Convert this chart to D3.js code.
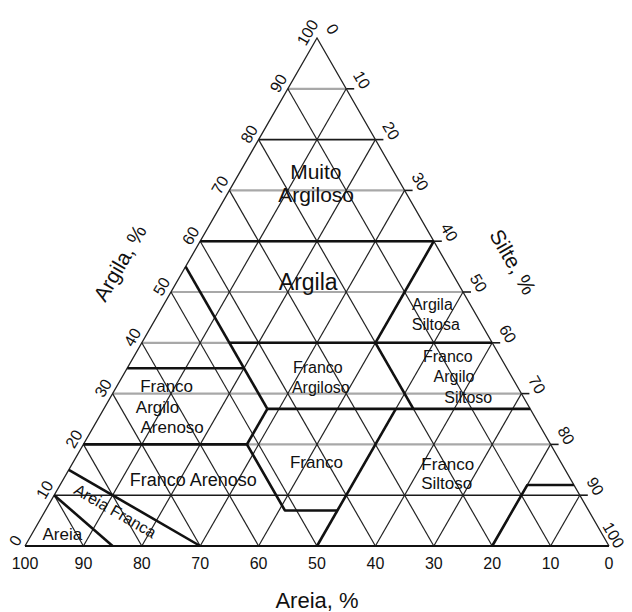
<!DOCTYPE html>
<html>
<head>
<meta charset="utf-8">
<script src="https://cdn.jsdelivr.net/npm/d3@7"></script>
<style>
    body { margin: 0; background: #fff; }
    svg { display: block; font-family: "Liberation Sans", Arial, sans-serif; }
</style>
</head>
<body>
<svg id="chart" width="632" height="612"></svg>
<script>
// percent ticks on the three axes
var sandTicks = [100, 90, 80, 70, 60, 50, 40, 30, 20, 10, 0];
var clayTicks = [0, 10, 20, 30, 40, 50, 60, 70, 80, 90, 100];
var siltTicks = [0, 10, 20, 30, 40, 50, 60, 70, 80, 90, 100];
var gridSteps = [10, 20, 30, 40, 50, 60, 70, 80, 90];

// class boundaries, each point is [sand, silt, clay]
var boundaries = [
    [[85, 15, 0], [90, 0, 10]],
    [[70, 30, 0], [85, 0, 15]],
    [[80, 0, 20], [52, 28, 20]],
    [[52, 28, 20], [52, 41, 7], [43, 50, 7]],
    [[50, 50, 0], [23, 50, 27]],
    [[52, 28, 20], [45, 28, 27]],
    [[45, 28, 27], [0, 73, 27]],
    [[45, 0, 55], [45, 28, 27]],
    [[65, 0, 35], [45, 20, 35]],
    [[45, 15, 40], [0, 60, 40]],
    [[20, 40, 40], [20, 53, 27]],
    [[0, 40, 60], [20, 40, 40]],
    [[40, 0, 60], [0, 40, 60]],
    [[20, 80, 0], [8, 80, 12], [0, 88, 12]]
];

// class names, one entry per text line
var classLines = ["Muito", "Argiloso", "Argila", "Argila", "Siltosa",
    "Franco", "Argilo", "Siltoso", "Franco", "Argiloso",
    "Franco", "Argilo", "Arenoso", "Franco Arenoso", "Franco",
    "Franco", "Siltoso", "Areia", "Areia Franca"];
// where each line sits, [silt, clay]
var classLineAt = [[13.7, 72.2], [16.0, 67.7], [23.3, 50.4], [46.5, 46.5], [49.1, 42.5],
    [54.3, 36.2], [57.3, 32.3], [61.8, 28.2], [33.1, 34.1], [35.6, 30.1],
    [9.1, 30.3], [9.6, 26.2], [14.1, 22.2], [22.9, 11.8], [42.2, 15.4],
    [64.9, 15.0], [66.6, 11.2], [5.8, 1.2], [12.0, 6.9]];

var axisTitles = ["Areia, %", "Argila, %", "Silte, %"];

var svg = d3.select('#chart');

var x = d3.scaleLinear().domain([0, 100]).range([25, 609]);
var y = d3.scaleLinear().domain([0, 100]).range([546, 38]);

function pt(p) {
    // p = [sand, silt, clay]
    return [x(p[1] + p[2] / 2), y(p[2])];
}
function ptSC(silt, clay) {
    return pt([100 - silt - clay, silt, clay]);
}

var line = d3.line();

var gridG = svg.append('g');
var darkClay = [10, 80];

// clay grid, horizontal
gridSteps.forEach(function (c) {
    var a = pt([100 - c, 0, c]), b = pt([0, 100 - c, c]);
    var dark = darkClay.indexOf(c) >= 0;
    gridG.append('line')
        .attr('x1', a[0]).attr('y1', a[1]).attr('x2', b[0]).attr('y2', b[1])
        .attr('stroke', dark ? '#1a1a1a' : '#a8a8a8')
        .attr('stroke-width', dark ? 1.6 : 2.2);
    gridG.append('line')
        .attr('x1', b[0]).attr('y1', b[1]).attr('x2', b[0] + 8).attr('y2', b[1])
        .attr('stroke', '#1a1a1a').attr('stroke-width', 1.6);
});

// sand and silt grid, diagonal
gridSteps.forEach(function (s) {
    var a = pt([s, 100 - s, 0]), b = pt([s, 0, 100 - s]);
    gridG.append('path').attr('d', line([a, b]))
        .attr('stroke', '#222').attr('stroke-width', 1.2).attr('fill', 'none');
    var c = pt([100 - s, s, 0]), d = pt([0, s, 100 - s]);
    gridG.append('path').attr('d', line([c, d]))
        .attr('stroke', '#222').attr('stroke-width', 1.2).attr('fill', 'none');
});

// outline
svg.append('path')
    .attr('d', line([pt([100, 0, 0]), pt([0, 0, 100]), pt([0, 100, 0])]))
    .attr('stroke', '#222').attr('stroke-width', 1.3).attr('fill', 'none');
svg.append('path')
    .attr('d', line([pt([100, 0, 0]), pt([0, 100, 0])]))
    .attr('stroke', '#111').attr('stroke-width', 2).attr('fill', 'none');

// class boundaries
svg.append('g').selectAll('path')
    .data(boundaries)
    .enter().append('path')
    .attr('d', function (d) { return line(d.map(pt)); })
    .attr('stroke', '#111').attr('stroke-width', 2.6)
    .attr('fill', 'none').attr('stroke-linejoin', 'round');

// tick labels
var tickG = svg.append('g').attr('font-size', 16).attr('fill', '#111');
sandTicks.forEach(function (s) {
    var p = pt([s, 100 - s, 0]);
    tickG.append('text').attr('x', p[0]).attr('y', 568.5)
        .attr('text-anchor', 'middle').text(s);
});
clayTicks.forEach(function (c) {
    var p = pt([100 - c, 0, c]);
    var lx = p[0] - 11 * 0.866, ly = p[1] - 11 * 0.5;
    tickG.append('text')
        .attr('transform', 'translate(' + lx + ',' + ly + ') rotate(-60)')
        .attr('text-anchor', 'middle').attr('dy', '0.35em').text(c);
});
siltTicks.forEach(function (t) {
    var p = pt([0, t, 100 - t]);
    var lx = p[0] + 18 * 0.866, ly = p[1] - 18 * 0.5;
    // last label would run off the right edge
    if (t === 100) { lx -= 11; ly -= 2; }
    tickG.append('text')
        .attr('transform', 'translate(' + lx + ',' + ly + ') rotate(60)')
        .attr('text-anchor', 'middle').attr('dy', '0.35em').text(t);
});

// axis titles
svg.append('text').attr('x', x(50)).attr('y', 608)
    .attr('text-anchor', 'middle').attr('font-size', 22).attr('fill', '#111')
    .text(axisTitles[0]);
svg.append('text').attr('transform', 'translate(120,263) rotate(-60)')
    .attr('text-anchor', 'middle').attr('dy', '0.35em').attr('font-size', 21).attr('fill', '#111')
    .text(axisTitles[1]);
svg.append('text').attr('transform', 'translate(513,262) rotate(60)')
    .attr('text-anchor', 'middle').attr('dy', '0.35em').attr('font-size', 21).attr('fill', '#111')
    .text(axisTitles[2]);

// class labels
var labelSize = [21, 21, 23, 16, 16, 16, 16, 16, 16, 16, 17, 17, 17, 18, 17, 17, 17, 17, 16];
var labelG = svg.append('g').attr('fill', '#111');
classLines.forEach(function (txt, i) {
    var p = ptSC(classLineAt[i][0], classLineAt[i][1]);
    var t = labelG.append('text').attr('text-anchor', 'middle')
        .attr('font-size', labelSize[i]).text(txt);
    if (txt === 'Areia Franca') {
        t.attr('transform', 'translate(' + p[0] + ',' + p[1] + ') rotate(30)').attr('dy', '0.35em');
    } else {
        t.attr('x', p[0]).attr('y', p[1]);
    }
});
</script>
</body>
</html>
